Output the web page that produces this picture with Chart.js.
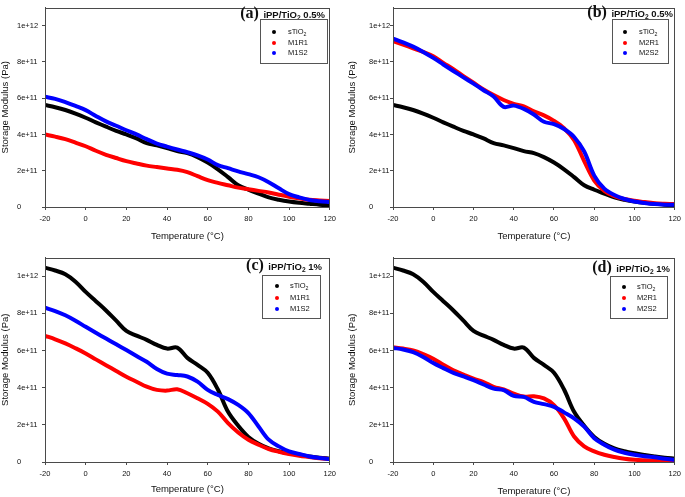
<!DOCTYPE html>
<html>
<head>
<meta charset="utf-8">
<script src="https://cdn.jsdelivr.net/npm/chart.js@4/dist/chart.umd.min.js"></script>
<style>
  html,body{margin:0;padding:0;background:#fff;}
  body{width:685px;height:497px;position:relative;overflow:hidden;font-family:"Liberation Sans",Arial,sans-serif;}
  .panel{position:absolute;}
  .panel canvas{position:absolute;left:0;top:0;}
  .ttl{position:absolute;white-space:nowrap;color:#111;line-height:1;}
  .ttl .lab{font-family:"Liberation Serif","Times New Roman",serif;font-weight:bold;font-size:16px;}
  .ttl .txt{font-family:"Liberation Sans",Arial,sans-serif;font-weight:bold;font-size:9.5px;}
  .ttl sub,.leg sub{font-size:70%;vertical-align:-2px;line-height:0;}
  .leg{position:absolute;border:1px solid #555;background:#fff;box-sizing:border-box;}
  .leg .row{position:absolute;left:0;font-size:7.5px;color:#111;line-height:1;white-space:nowrap;}
  .leg .dot{position:absolute;width:4px;height:4px;border-radius:50%;}
</style>
</head>
<body>
<script>
// ---------------- DATA ----------------
const temperatures = [-20,-15,-10,-5,0,5,10,15,20,25,30,35,40,45,50,55,60,65,70,75,80,85,90,95,100,105,110,115,120];
const xTicks = [-20,0,20,40,60,80,100,120];
const yTicks = [0,2e11,4e11,6e11,8e11,1e12];

// storage modulus values in units of 1e11 Pa
const sTiO2_05 = [5.62,5.50,5.35,5.15,4.92,4.67,4.43,4.20,4.00,3.78,3.52,3.40,3.25,3.08,2.97,2.75,2.45,2.08,1.65,1.20,0.95,0.74,0.53,0.40,0.30,0.23,0.18,0.13,0.10];
const M1R1_05 = [4.00,3.88,3.74,3.55,3.35,3.10,2.88,2.70,2.53,2.40,2.28,2.20,2.12,2.05,1.92,1.70,1.48,1.33,1.20,1.07,0.98,0.89,0.80,0.68,0.57,0.48,0.40,0.36,0.33];
const M1S2_05 = [6.08,5.96,5.78,5.57,5.34,5.02,4.72,4.48,4.23,4.00,3.74,3.50,3.33,3.17,3.02,2.85,2.62,2.31,2.14,1.96,1.81,1.64,1.37,1.03,0.71,0.53,0.39,0.32,0.27];
const M2R1_05 = [9.15,8.95,8.75,8.55,8.31,7.95,7.60,7.22,6.85,6.48,6.17,5.90,5.69,5.55,5.28,5.05,4.75,4.34,3.68,2.53,1.46,0.89,0.60,0.44,0.34,0.27,0.21,0.18,0.16];
const M2S2_05 = [9.29,9.08,8.84,8.55,8.22,7.86,7.50,7.15,6.80,6.44,6.09,5.52,5.59,5.41,5.10,4.70,4.57,4.30,3.86,3.06,1.73,1.01,0.66,0.44,0.30,0.22,0.16,0.13,0.12];
const sTiO2_1 = [10.45,10.30,10.10,9.70,9.15,8.65,8.15,7.60,7.05,6.80,6.57,6.30,6.10,6.15,5.60,5.22,4.80,3.90,2.70,1.95,1.35,0.98,0.73,0.58,0.47,0.38,0.30,0.23,0.18];
const M1R1_1 = [6.79,6.60,6.38,6.12,5.84,5.52,5.21,4.90,4.59,4.32,4.05,3.88,3.84,3.91,3.70,3.43,3.13,2.71,2.09,1.59,1.20,0.93,0.70,0.55,0.43,0.34,0.27,0.20,0.16];
const M1S2_1 = [8.30,8.12,7.89,7.60,7.27,6.95,6.64,6.33,6.02,5.70,5.39,5.00,4.75,4.68,4.60,4.32,3.88,3.61,3.38,3.07,2.63,1.91,1.20,0.84,0.57,0.43,0.30,0.22,0.16];
const M2R1_1 = [6.17,6.10,6.00,5.80,5.55,5.23,4.93,4.70,4.48,4.30,4.04,3.90,3.68,3.52,3.54,3.42,3.06,2.35,1.37,0.84,0.57,0.39,0.27,0.18,0.12,0.09,0.07,0.06,0.05];
const M2S2_1 = [6.14,6.05,5.91,5.65,5.32,5.05,4.79,4.60,4.40,4.17,3.95,3.86,3.56,3.50,3.24,3.11,2.97,2.67,2.35,1.90,1.28,0.93,0.66,0.50,0.39,0.31,0.25,0.18,0.12];

const panelLetters = ['(a)','(b)','(c)','(d)'];
const panelTitles = ['iPP/TiO<sub>2</sub> 0.5%','iPP/TiO<sub>2</sub> 0.5%','iPP/TiO<sub>2</sub> 1%','iPP/TiO<sub>2</sub> 1%'];
const seriesNames = [
  ['sTiO<sub>2</sub>','M1R1','M1S2'],
  ['sTiO<sub>2</sub>','M2R1','M2S2'],
  ['sTiO<sub>2</sub>','M1R1','M1S2'],
  ['sTiO<sub>2</sub>','M2R1','M2S2']
];
const seriesData = [
  [sTiO2_05, M1R1_05, M1S2_05],
  [sTiO2_05, M2R1_05, M2S2_05],
  [sTiO2_1, M1R1_1, M1S2_1],
  [sTiO2_1, M2R1_1, M2S2_1]
];
const xTitle = 'Temperature (\u00B0C)';
const yTitle = 'Storage Modulus (Pa)';

// ---------------- LAYOUT ----------------
const colors = ['#000000','#ff0000','#0000ff'];
const layouts = [
  {left:0,  top:0,   w:340, h:248, padL:17, axisW:28, padT:2, padR:10, chartB:207, xTitleY:236, yTitleX:5,
   title:{right:15, top:5}, leg:{left:260, top:19, w:68, h:45, dotX:13, txtX:27, rows:[12,23,33]}},
  {left:340,top:0,   w:345, h:248, padL:29, axisW:24, padT:2, padR:7,  chartB:207, xTitleY:236, yTitleX:12,
   title:{right:12, top:4}, leg:{left:272, top:19, w:57, h:45, dotX:12, txtX:26, rows:[12,23,33]}},
  {left:0,  top:250, w:340, h:247, padL:17, axisW:28, padT:6, padR:10, chartB:212, xTitleY:239, yTitleX:5,
   title:{right:18, top:7}, leg:{left:262, top:25, w:59, h:44, dotX:14, txtX:27, rows:[10,22,33]}},
  {left:340,top:250, w:345, h:247, padL:29, axisW:24, padT:6, padR:7,  chartB:212, xTitleY:241, yTitleX:12,
   title:{right:15, top:9}, leg:{left:270, top:26, w:58, h:43, dotX:13, txtX:26, rows:[10,21,32]}}
];

const frame = {
  id:'frame',
  afterDatasetsDraw(chart){
    const a = chart.chartArea, c = chart.ctx;
    c.save(); c.strokeStyle = '#4a4a4a'; c.lineWidth = 1;
    c.strokeRect(Math.round(a.left)+0.5, Math.round(a.top)+0.5, Math.round(a.right-a.left)-1, Math.round(a.bottom-a.top)-1);
    c.restore();
  }
};

const fontFam = '"Liberation Sans", Arial, sans-serif';
const titleSize = 9.5, titleLH = titleSize*1.2;

layouts.forEach((L, i) => {
  const div = document.createElement('div');
  div.className = 'panel';
  Object.assign(div.style, {left:L.left+'px', top:L.top+'px', width:L.w+'px', height:L.h+'px'});
  const cv = document.createElement('canvas');
  cv.width = L.w; cv.height = L.h;
  cv.style.width = L.w+'px'; cv.style.height = L.h+'px';
  div.appendChild(cv);
  document.body.appendChild(div);

  const datasets = seriesData[i].map((arr, k) => ({
    label: seriesNames[i][k].replace(/<\/?sub>/g,''),
    data: temperatures.map((t, j) => ({x:t, y:arr[j]*1e11})),
    borderColor: colors[k], backgroundColor: colors[k],
    borderWidth: 4, pointRadius: 0, tension: 0.35, fill:false,
    order: 2-k
  }));

  new Chart(cv, {
    type:'line',
    data:{datasets},
    plugins:[frame],
    options:{
      responsive:false, animation:false, devicePixelRatio:1,
      layout:{autoPadding:false, padding:{left:L.padL, top:L.padT, right:L.padR, bottom:0}},
      plugins:{legend:{display:false}, tooltip:{enabled:false}},
      scales:{
        x:{
          type:'linear', min:-20, max:120,
          afterBuildTicks(s){ s.ticks = xTicks.map(v=>({value:v})); },
          afterFit(s){ s.height = L.h - L.chartB; },
          grid:{display:true, drawOnChartArea:false, drawTicks:true, tickLength:3, color:'#4a4a4a'},
          border:{display:true, color:'#4a4a4a', width:1},
          ticks:{autoSkip:false, maxRotation:0, padding:4, color:'#111', font:{family:fontFam, size:7.5}},
          title:{display:true, text:xTitle, color:'#111', font:{family:fontFam, size:titleSize},
                 padding:{top:0, bottom:L.h - L.xTitleY - titleLH/2}}
        },
        y:{
          type:'linear', min:0, max:1.1e12,
          afterBuildTicks(s){ s.ticks = yTicks.map(v=>({value:v})); },
          afterFit(s){ s.width = L.axisW; },
          grid:{display:true, drawOnChartArea:false, drawTicks:true, tickLength:3, color:'#4a4a4a'},
          border:{display:true, color:'#4a4a4a', width:1},
          ticks:{crossAlign:'far', padding:3, color:'#111', font:{family:fontFam, size:7.5},
                 callback:(v)=> v===0 ? '0' : Number(v).toExponential(0)},
          title:{display:true, text:yTitle, color:'#111', font:{family:fontFam, size:titleSize},
                 padding:{top:L.yTitleX - L.padL - titleLH/2, bottom:0}}
        }
      }
    }
  });

  // panel title
  const tt = document.createElement('div');
  tt.className = 'ttl';
  tt.style.right = L.title.right+'px'; tt.style.top = L.title.top+'px';
  tt.innerHTML = '<span class="lab">'+panelLetters[i]+'</span> <span class="txt">'+panelTitles[i]+'</span>';
  div.appendChild(tt);

  // legend box
  const lg = document.createElement('div');
  lg.className = 'leg';
  Object.assign(lg.style, {left:L.leg.left+'px', top:L.leg.top+'px', width:L.leg.w+'px', height:L.leg.h+'px'});
  seriesNames[i].forEach((nm, k) => {
    const d = document.createElement('div');
    d.className = 'dot';
    Object.assign(d.style, {left:(L.leg.dotX-2)+'px', top:(L.leg.rows[k]-2)+'px', background:colors[k]});
    lg.appendChild(d);
    const r = document.createElement('div');
    r.className = 'row';
    Object.assign(r.style, {left:L.leg.txtX+'px', top:(L.leg.rows[k]-4)+'px'});
    r.innerHTML = nm;
    lg.appendChild(r);
  });
  div.appendChild(lg);
});
</script>
</body>
</html>
